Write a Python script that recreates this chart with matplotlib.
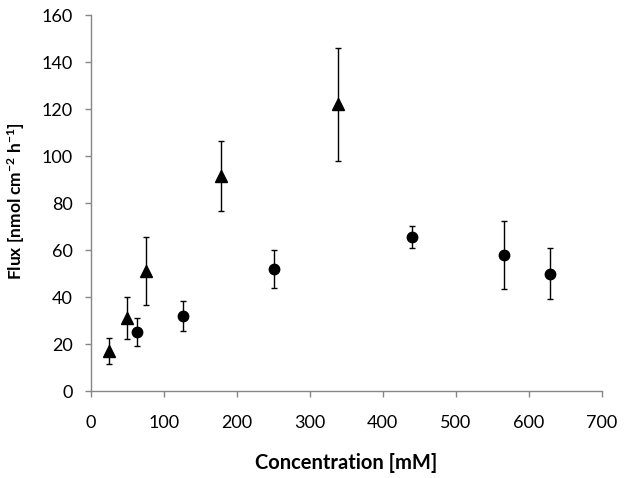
import matplotlib
matplotlib.use("Agg")
import matplotlib.pyplot as plt

plt.rcParams['font.family'] = ['Lato', 'DejaVu Sans']
plt.rcParams['mathtext.fontset'] = 'custom'
plt.rcParams['mathtext.rm'] = 'Lato'
plt.rcParams['mathtext.bf'] = 'Lato:bold'
plt.rcParams['mathtext.default'] = 'bf'

# triangles
tri_x = [25, 50, 75, 178, 338]
tri_y = [17, 31, 51, 91.5, 122]
tri_err = [5.5, 9, 14.5, 15, 24]

# circles
circ_x = [63, 126, 251, 440, 566, 629]
circ_y = [25, 32, 52, 65.5, 58, 50]
circ_err = [6, 6.4, 8, 4.7, 14.5, 11]

xticks = [0, 100, 200, 300, 400, 500, 600, 700]
yticks = [0, 20, 40, 60, 80, 100, 120, 140, 160]

fig = plt.figure(figsize=(6.24, 4.78), dpi=100)
ax = fig.add_axes([0.1458, 0.182, 0.8185, 0.7866])

ax.errorbar(tri_x, tri_y, yerr=tri_err, fmt='^', color='black', ms=8,
            ecolor='black', elinewidth=1, capsize=2.5, capthick=1)
ax.errorbar(circ_x, circ_y, yerr=circ_err, fmt='o', color='black', ms=7.5,
            ecolor='black', elinewidth=1, capsize=2.5, capthick=1)

ax.set_xlim(0, 700)
ax.set_ylim(0, 160)
ax.set_xticks(xticks)
ax.set_yticks(yticks)

for s in ['top', 'right']:
    ax.spines[s].set_visible(False)
for s in ['left', 'bottom']:
    ax.spines[s].set_color('#868686')
    ax.spines[s].set_linewidth(1)
ax.tick_params(direction='out', length=4, width=1, color='#868686',
               labelsize=13)
ax.tick_params(axis='x', pad=13)
ax.tick_params(axis='y', pad=9)

ax.set_xlabel('Concentration [mM]', fontsize=14.5, fontweight='bold')
ax.xaxis.set_label_coords(0.5, -0.191)
ax.xaxis.label.set_va('center')
ax.set_ylabel(r'Flux [nmol cm$^{-2}$ h$^{-1}$]', fontsize=12.5, fontweight='bold')
ax.yaxis.set_label_coords(-0.146, 0.505)
ax.yaxis.label.set_va('center')

fig.savefig('out.png', dpi=100)
